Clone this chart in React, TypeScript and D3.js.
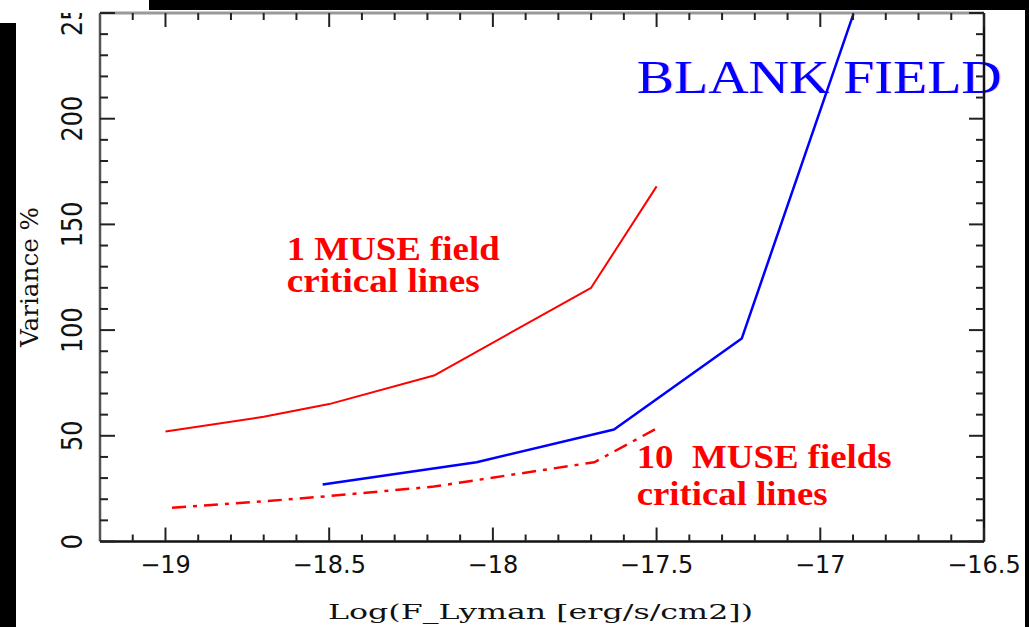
import React from "react";
import * as d3 from "d3";

// Flux thresholds (log erg/s/cm2) and variance (%) for each curve
const oneFieldX = [-19, -18.7, -18.5, -18.18, -17.7, -17.5];
const oneFieldY = [52, 59, 65, 78.5, 120, 168];

const tenFieldsX = [-18.98, -18.7, -18.5, -18.18, -17.69, -17.5];
const tenFieldsY = [16, 19, 21.5, 26, 37.5, 53.5];

const blankX = [-18.52, -18.05, -17.63, -17.24, -16.8];
const blankY = [27, 37.5, 53, 96, 294];

const xMajorTicks = [-19, -18.5, -18, -17.5, -17, -16.5];
const yMajorTicks = [0, 50, 100, 150, 200, 250];

const W = 1029;
const H = 627;
const left = 100;
const right = 984;
const top = 13;
const bottom = 541.5;

const x = d3.scaleLinear().domain([-19.2, -16.5]).range([left, right]);
const y = d3.scaleLinear().domain([0, 250]).range([bottom, top]);

const line = d3
  .line<[number, number]>()
  .x((d) => x(d[0]))
  .y((d) => y(d[1]));

const pts = (xs: number[], ys: number[]) =>
  xs.map((v, i) => [v, ys[i]] as [number, number]);

const fmt = (v: number) => (v < 0 ? "\u2212" + String(-v) : String(v));

export default function App() {
  const xMinor = d3.range(-19.1, -16.5 + 1e-6, 0.1).map((v) => +v.toFixed(2));
  const yMinor = d3.range(0, 250 + 1e-6, 10);
  const isMajorX = (v: number) => xMajorTicks.some((m) => Math.abs(m - v) < 1e-6);
  const isMajorY = (v: number) => yMajorTicks.includes(v);

  return (
    <svg
      width={W}
      height={H}
      viewBox={`0 0 ${W} ${H}`}
      style={{ position: "absolute", left: 0, top: 0, background: "#fff" }}
    >
      <defs>
        <clipPath id="plotClip">
          <rect x={left} y={top} width={right - left} height={bottom - top} />
        </clipPath>
        <clipPath id="labelClip">
          <rect x={0} y={top} width={W} height={H - top} />
        </clipPath>
      </defs>
      <rect x={0} y={0} width={W} height={H} fill="#fff" />

      {/* annotations */}
      <text
        x={636.7}
        y={93.3}
        fontFamily="'Liberation Serif', 'Times New Roman', serif"
        fontSize={47}
        fill="#ff44ff"
        opacity={0.35}
        textLength={365}
        lengthAdjust="spacingAndGlyphs"
        transform="translate(1.2,0)"
      >
        BLANK FIELD
      </text>
      <text
        x={636.7}
        y={93.3}
        fontFamily="'Liberation Serif', 'Times New Roman', serif"
        fontSize={47}
        fill="#0000ff"
        textLength={365}
        lengthAdjust="spacingAndGlyphs"
      >
        BLANK FIELD
      </text>
      <g
        fontFamily="'Liberation Serif', 'Times New Roman', serif"
        fontWeight="bold"
        fontSize={34}
        fill="#ff0000"
      >
        <text x={286.7} y={260} textLength={213} lengthAdjust="spacingAndGlyphs">
          1 MUSE field
        </text>
        <text x={286.7} y={291.7} textLength={193} lengthAdjust="spacingAndGlyphs">
          critical lines
        </text>
        <text x={636.7} y={468} textLength={255} lengthAdjust="spacingAndGlyphs" xmlSpace="preserve">
          10  MUSE fields
        </text>
        <text x={636.7} y={505} textLength={191} lengthAdjust="spacingAndGlyphs">
          critical lines
        </text>
      </g>

      {/* curves */}
      <g clipPath="url(#plotClip)" fill="none" strokeLinejoin="round">
        <path d={line(pts(oneFieldX, oneFieldY)) || ""} stroke="#ff0000" strokeWidth={2} />
        <path
          d={line(pts(tenFieldsX, tenFieldsY)) || ""}
          stroke="#ff0000"
          strokeWidth={2.5}
          strokeDasharray="14 7 4 7"
        />
        <path d={line(pts(blankX, blankY)) || ""} stroke="#0000ff" strokeWidth={2.5} />
      </g>

      {/* frame */}
      <line x1={left} y1={top} x2={left} y2={bottom} stroke="#555" strokeWidth={2.5} />
      <line x1={left} y1={top} x2={right} y2={top} stroke="#999" strokeWidth={3} />
      <line x1={left} y1={bottom} x2={right} y2={bottom} stroke="#111" strokeWidth={2.5} />
      <line x1={right} y1={top} x2={right} y2={bottom} stroke="#111" strokeWidth={2.5} />

      {/* ticks */}
      <g stroke="#222" strokeWidth={2}>
        {xMinor.map((v) => {
          const len = isMajorX(v) ? 14 : 7;
          const px = x(v);
          return (
            <g key={"xt" + v}>
              <line x1={px} y1={bottom} x2={px} y2={bottom - len} />
              <line x1={px} y1={top} x2={px} y2={top + len} />
            </g>
          );
        })}
        {yMinor.map((v) => {
          const len = isMajorY(v) ? 15 : 8;
          const py = y(v);
          return (
            <g key={"yt" + v}>
              <line x1={left} y1={py} x2={left + len} y2={py} />
              <line x1={right} y1={py} x2={right - len} y2={py} />
            </g>
          );
        })}
      </g>

      {/* tick labels */}
      <g fontFamily="'DejaVu Sans', sans-serif" fontSize={24} fill="#111">
        {xMajorTicks.map((v) => (
          <text key={"xl" + v} x={x(v)} y={573} textAnchor="middle">
            {fmt(v)}
          </text>
        ))}
        <g clipPath="url(#labelClip)">
          {yMajorTicks.map((v) => (
            <text
              key={"yl" + v}
              transform={`translate(82,${y(v)}) scale(1.2,1) rotate(-90)`}
              textAnchor="middle"
            >
              {fmt(v)}
            </text>
          ))}
        </g>
      </g>

      {/* axis titles */}
      <text
        x={540.5}
        y={619}
        textAnchor="middle"
        fontFamily="'DejaVu Serif', serif"
        fontSize={20}
        fill="#111"
        textLength={425}
        lengthAdjust="spacingAndGlyphs"
      >
        Log(F_Lyman [erg/s/cm2])
      </text>
      <text
        transform={`translate(38,277) scale(1.2,1) rotate(-90)`}
        textAnchor="middle"
        fontFamily="'DejaVu Serif', serif"
        fontSize={20}
        fill="#111"
        textLength={140}
        lengthAdjust="spacingAndGlyphs"
      >
        Variance %
      </text>

      {/* outer borders */}
      <rect x={0} y={23} width={16} height={H - 23} fill="#000" />
      <rect x={149} y={0} width={W - 149} height={10} fill="#000" />
      <rect x={1025} y={0} width={4} height={H} fill="#000" />
    </svg>
  );
}
